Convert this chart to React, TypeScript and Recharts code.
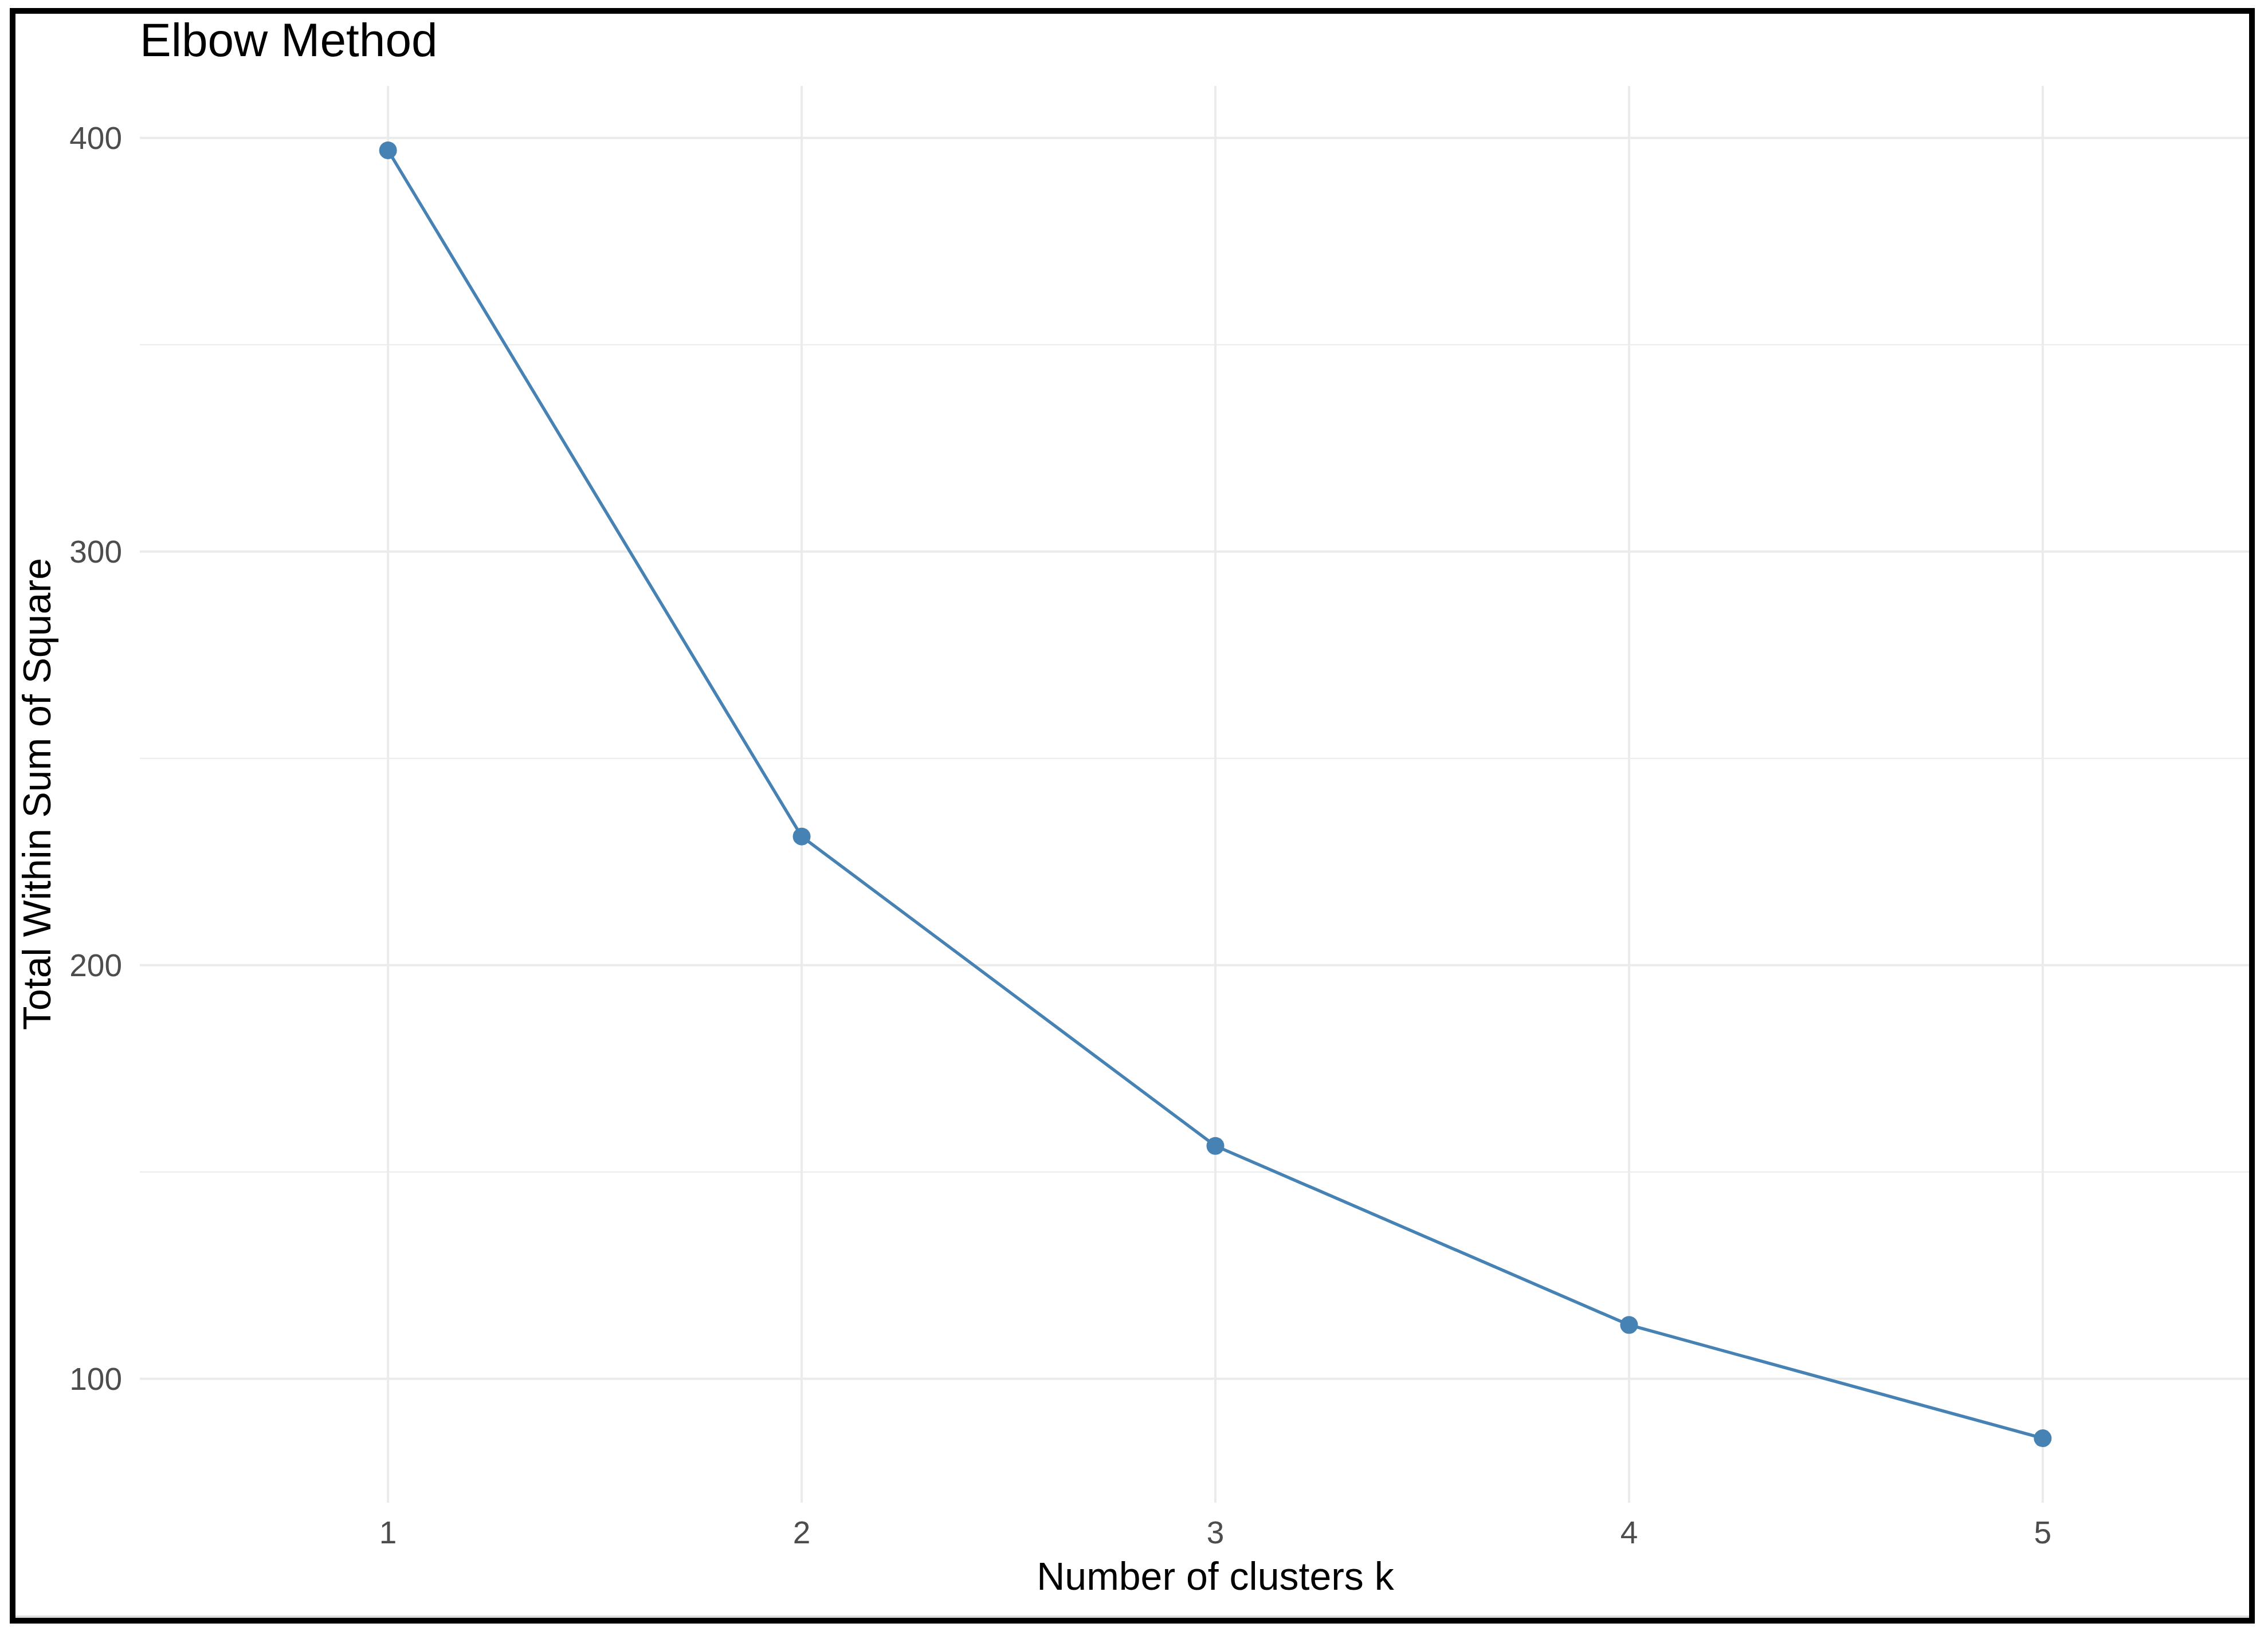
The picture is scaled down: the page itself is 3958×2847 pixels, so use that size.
import React from 'react';
import { LineChart, Line, XAxis, YAxis, CartesianGrid } from 'recharts';

const clusters = [1, 2, 3, 4, 5];
const wss = [397.0, 231.1, 156.3, 113.0, 85.6];
const xTicks = [1, 2, 3, 4, 5];
const yTicks = [100, 200, 300, 400];
const yMinorTicks = [150, 250, 350];

const titleText = 'Elbow Method';
const xTitle = 'Number of clusters k';
const yTitle = 'Total Within Sum of Square';

const data = clusters.map((k, i) => ({ k, wss: wss[i] }));

const yMin = Math.min(...wss);
const yMax = Math.max(...wss);
const ySpan = yMax - yMin;
const yDomain = [yMin - 0.05 * ySpan, yMax + 0.05 * ySpan];
const xDomain = [clusters[0] - 0.6, clusters[clusters.length - 1] + 0.6];

const FONT = '"Liberation Sans", Arial, Helvetica, sans-serif';
const STEEL = '#4682B4';

export default function App() {
  return (
    <div
      style={{
        position: 'absolute',
        left: 0,
        top: 0,
        width: 3958,
        height: 2847,
        overflow: 'hidden',
        background: '#ffffff',
        fontFamily: FONT,
      }}
    >
      <div
        style={{
          position: 'absolute',
          left: 0,
          top: 0,
          width: 3926,
          height: 2847,
          overflow: 'hidden',
        }}
      >
        <LineChart
          width={4000}
          height={2847}
          data={data}
          margin={{ top: 150, right: 2, bottom: 24, left: 0 }}
          style={{ fontFamily: FONT }}
        >
          <CartesianGrid
            horizontalValues={yMinorTicks}
            vertical={false}
            stroke="#ebebeb"
            strokeWidth={2}
          />
          <CartesianGrid
            horizontalValues={yTicks}
            verticalValues={xTicks}
            stroke="#ebebeb"
            strokeWidth={4}
          />
          <XAxis
            dataKey="k"
            type="number"
            domain={xDomain}
            ticks={xTicks}
            allowDataOverflow
            axisLine={false}
            tickLine={false}
            tickSize={0}
            tickMargin={32}
            height={200}
            tick={{ fontSize: 55, fill: '#4d4d4d', fontFamily: FONT }}
            label={{
              value: xTitle,
              position: 'insideBottom',
              offset: 48,
              fill: '#000000',
              fontSize: 68,
              fontFamily: FONT,
            }}
          />
          <YAxis
            type="number"
            domain={yDomain}
            ticks={yTicks}
            allowDataOverflow
            axisLine={false}
            tickLine={false}
            tickSize={0}
            tickMargin={31}
            width={244}
            tick={{ fontSize: 55, fill: '#4d4d4d', fontFamily: FONT }}
          />
          <Line
            dataKey="wss"
            stroke={STEEL}
            strokeWidth={5.5}
            dot={{ r: 15.5, fill: STEEL, stroke: 'none' }}
            activeDot={false}
            isAnimationActive={false}
          />
        </LineChart>
      </div>
      <svg
        width={3958}
        height={2847}
        style={{ position: 'absolute', left: 0, top: 0, pointerEvents: 'none' }}
      >
        <text x={244} y={98} fontSize={82} fill="#000000" fontFamily={FONT}>
          {titleText}
        </text>
        <text
          x={88}
          y={1386}
          fontSize={68}
          fill="#000000"
          fontFamily={FONT}
          textAnchor="middle"
          transform="rotate(-90 88 1386)"
        >
          {yTitle}
        </text>
        <rect x={26} y={2820} width={3899} height={4} fill="#dcdcdc" />
        <rect
          x={22}
          y={19}
          width={3908}
          height={2810}
          fill="none"
          stroke="#000000"
          strokeWidth={10}
        />
      </svg>
    </div>
  );
}
